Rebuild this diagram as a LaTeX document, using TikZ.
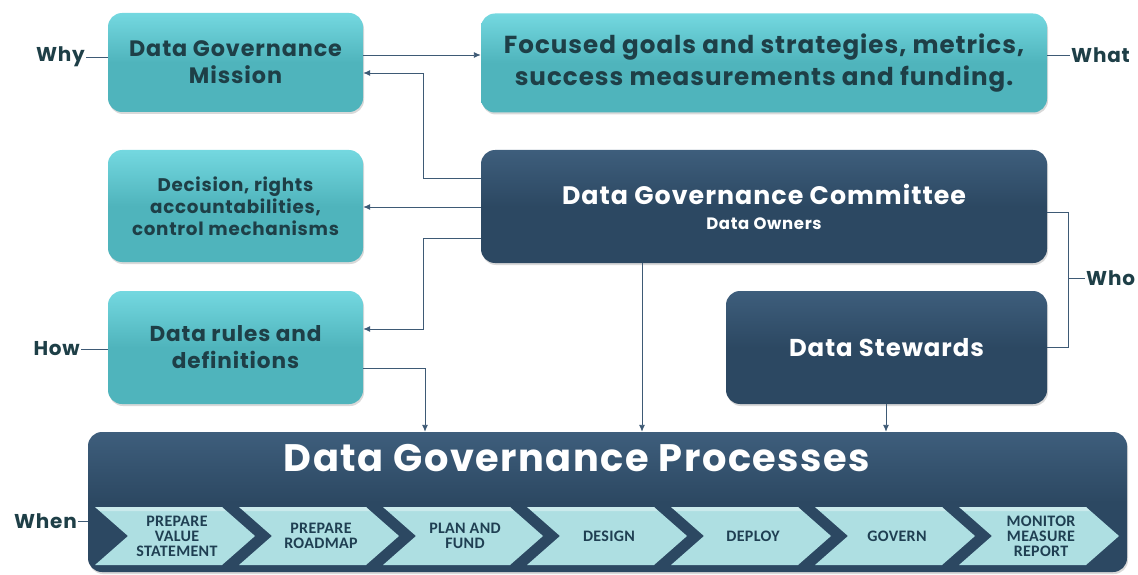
\documentclass[tikz,border=0pt]{standalone}
\usepackage{fontspec}
\setmainfont{Poppins}[LetterSpace=4]
\newfontfamily\chevfont{Carlito}[LetterSpace=2]
\usetikzlibrary{shadows,calc,arrows.meta}
\definecolor{tealA}{HTML}{4FB4BC}
\definecolor{tealTop}{HTML}{74D8E0}
\definecolor{navyA}{HTML}{2C4862}
\definecolor{navyTop}{HTML}{3E5E7C}
\definecolor{txtdark}{HTML}{1E3F47}
\definecolor{connc}{HTML}{3E5A75}
\definecolor{chevc}{HTML}{AEDFE2}
\definecolor{chevtxt}{HTML}{1F3F52}
\tikzset{
  tealbox/.style={rounded corners=14pt, top color=tealTop, bottom color=tealA, middle color=tealA,
    drop shadow={opacity=0.3, shadow xshift=1pt, shadow yshift=-2pt},
    text=txtdark, align=center, font=\bfseries, inner sep=0pt},
  navybox/.style={rounded corners=14pt, top color=navyTop, bottom color=navyA, middle color=navyA,
    drop shadow={opacity=0.3, shadow xshift=1pt, shadow yshift=-2pt},
    text=white, align=center, font=\bfseries, inner sep=0pt},
  conn/.style={draw=connc, line width=0.9pt, -{Latex[length=7pt,width=6pt]}},
  plainline/.style={draw=connc, line width=0.9pt},
  side/.style={text=txtdark, font=\bfseries\fontsize{20}{22}\selectfont, inner sep=1pt},
  chevlabel/.style={text=chevtxt, font=\chevfont\bfseries\fontsize{16}{15}\selectfont, align=center, inner sep=0pt},
}
\begin{document}
\begin{tikzpicture}[x=1pt,y=-1pt]
\useasboundingbox (0,0) rectangle (1138,575);
% boxes
\node[tealbox, minimum width=255pt, minimum height=99pt, font=\bfseries\fontsize{22.3}{27}\selectfont] (mission) at (235.5,62.5) {Data Governance\\Mission};
\node[tealbox, minimum width=566pt, minimum height=99pt, font=\bfseries\fontsize{24.6}{32}\selectfont] (goals) at (764,63) {Focused goals and strategies, metrics,\\success measurements and funding.};
\node[navybox, minimum width=566pt, minimum height=113pt, font=\bfseries\fontsize{25.3}{25}\selectfont] (committee) at (764,206.5) {Data Governance Committee\\{\fontsize{16.5}{18}\selectfont Data Owners}};
\node[tealbox, minimum width=255pt, minimum height=112pt, font=\bfseries\fontsize{18.3}{22}\selectfont] (decision) at (235.5,206) {Decision, rights\\accountabilities,\\control mechanisms};
\node[tealbox, minimum width=255pt, minimum height=113pt, font=\bfseries\fontsize{21.6}{27}\selectfont] (rules) at (235.5,347.5) {Data rules and\\definitions};
\node[navybox, minimum width=321pt, minimum height=113pt, font=\bfseries\fontsize{24.4}{24}\selectfont] (stewards) at (886.5,347.5) {Data Stewards};
\node[navybox, minimum width=1039pt, minimum height=140pt] (procs) at (607.5,502) {};
\node[text=white, font=\bfseries\fontsize{38.3}{40}\selectfont, inner sep=0pt] (ptitle) at (577,458) {Data Governance Processes};
% chevrons
\foreach \i/\lab in {0/{PREPARE\\VALUE\\STATEMENT},1/{PREPARE\\ROADMAP},2/{PLAN AND\\FUND},3/{DESIGN},4/{DEPLOY},5/{GOVERN},6/{MONITOR\\MEASURE\\REPORT}} {
  \pgfmathsetmacro{\xo}{95+144*\i}
  \fill[chevc] (\xo,507) -- ({\xo+127},507) -- ({\xo+160},536) -- ({\xo+127},565) -- (\xo,565) -- ({\xo+33},536) -- cycle;
  \fill[white, opacity=0.35] (\xo,507) -- ({\xo+127},507) -- ({\xo+131},511) -- ({\xo+5},511) -- cycle;
  \node[chevlabel] (chev\i) at ({\xo+82},536) {\lab};
}
% side labels
\node[side, anchor=east] (why) at (86,57) {Why};
\node[side, anchor=west] (what) at (1070,55) {What};
\node[side, anchor=west] (who) at (1085,278) {Who};
\node[side, anchor=east] (how) at (81,349) {How};
\node[side, anchor=east] (when) at (78,521) {When};
% connectors
\draw[plainline] (why.east) -- (mission.west |- why.east);
\draw[plainline] (goals.east |- what.west) -- (what.west);
\draw[plainline] (how.east) -- (rules.west |- how.east);
\draw[plainline] (when.east) -- (procs.west |- when.east);
\draw[conn] (mission.east |- 0,55) -- (goals.west |- 0,55);
\draw[conn] (committee.west |- 0,178) -| (423,73) -- (mission.east |- 0,73);
\draw[conn] (committee.west |- 0,207) -- (decision.east |- 0,207);
\draw[conn] (committee.west |- 0,238) -| (423,329) -- (rules.east |- 0,329);
\draw[conn] (rules.east |- 0,368) -| (procs.north -| 425,0);
\draw[conn] (committee.south -| 642,0) -- (procs.north -| 642,0);
\draw[conn] (stewards.south -| 886,0) -- (procs.north -| 886,0);
\draw[plainline] (committee.east |- 0,212) -| (1068,347) -- (stewards.east |- 0,347);
\draw[plainline] (1068,278) -- (who.west);
\end{tikzpicture}
\end{document}
